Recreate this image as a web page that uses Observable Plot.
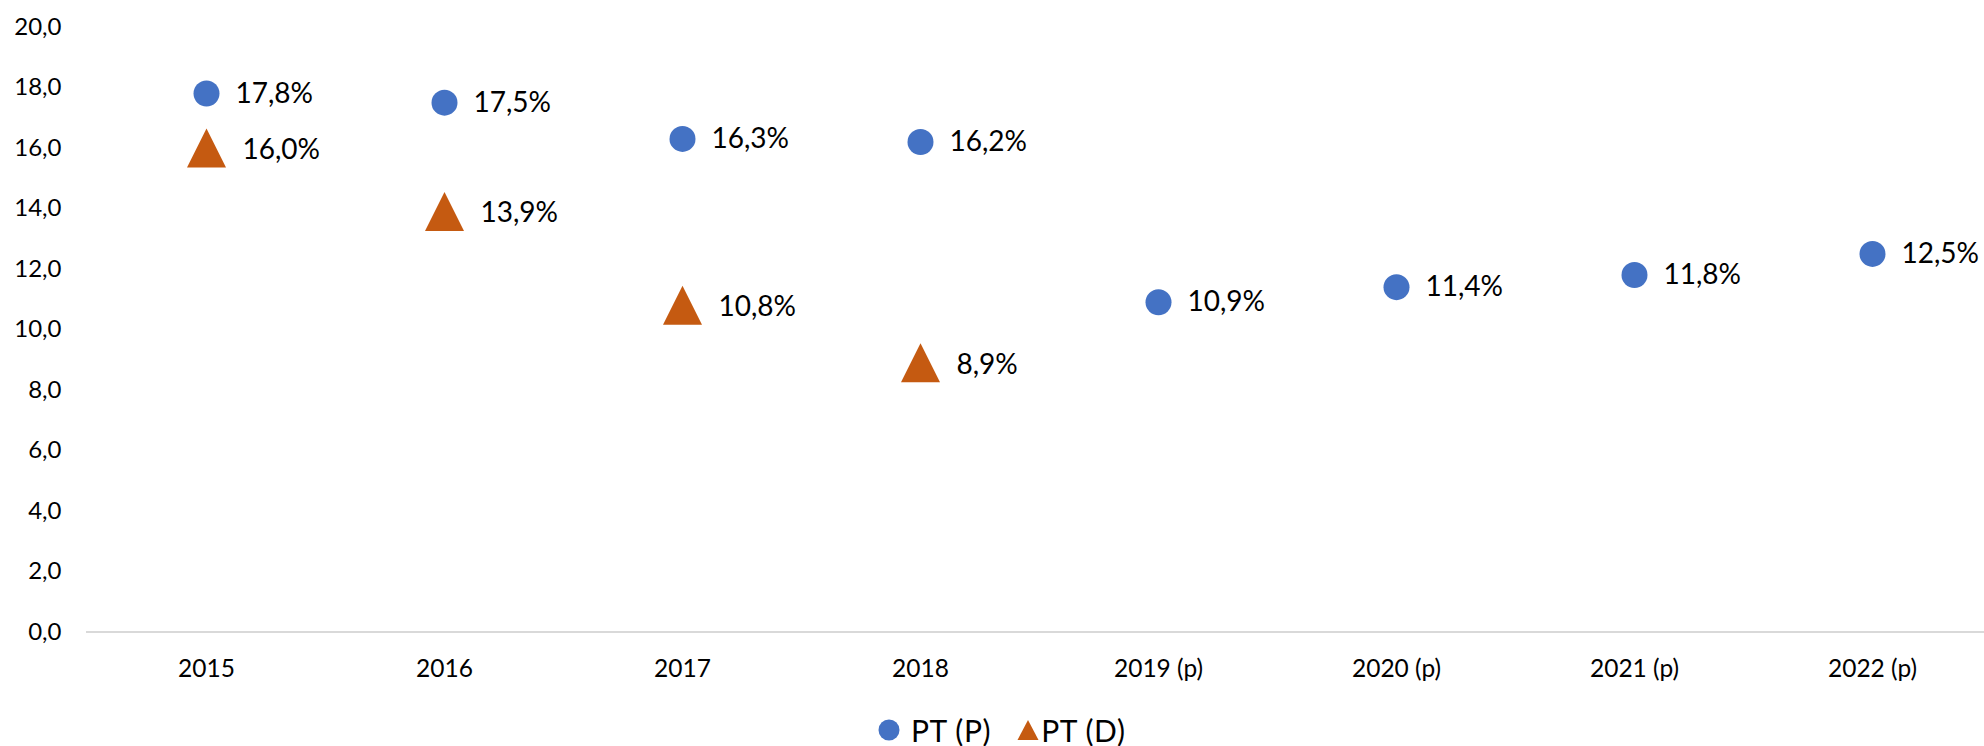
<!DOCTYPE html>
<html>
<head>
<meta charset="utf-8">
<script src="https://cdn.jsdelivr.net/npm/d3@7"></script>
<script src="https://cdn.jsdelivr.net/npm/@observablehq/plot@0.6"></script>
<style>
  html, body { margin: 0; padding: 0; background: #fff; overflow: hidden; }
  body { width: 1984px; height: 746px; position: relative; font-family: Lato, "Open Sans", sans-serif; }
  #legend { position: absolute; left: 878px; top: 714px; height: 32px; display: flex; align-items: center; font-size: 30px; letter-spacing: 0.6px; color: #000; }
  #legend svg { display: block; }
</style>
</head>
<body>
<div id="chart"></div>
<div id="legend"></div>
<script>
const years = ["2015", "2016", "2017", "2018", "2019 (p)", "2020 (p)", "2021 (p)", "2022 (p)"];
const seriesP = [17.8, 17.5, 16.3, 16.2, 10.9, 11.4, 11.8, 12.5];
const seriesD = [16.0, 13.9, 10.8, 8.9];
const yTicks = [0, 2, 4, 6, 8, 10, 12, 14, 16, 18, 20];
const seriesNames = ["PT (P)", "PT (D)"];
const colors = ["#4472C4", "#C55A11"];

const dataP = years.map((year, i) => ({year, value: seriesP[i]}));
const dataD = seriesD.map((value, i) => ({year: years[i], value}));

const fmt = v => v.toFixed(1).replace(".", ",");

// triangle centred on its bounding box
const triangle = {
  draw(context, size) {
    const s = Math.sqrt(size / Math.PI) * 1.5;
    context.moveTo(0, -s);
    context.lineTo(s, s);
    context.lineTo(-s, s);
    context.closePath();
  }
};

const chart = Plot.plot({
  width: 1984,
  height: 712,
  marginTop: 26.5,
  marginBottom: 80.5,
  marginLeft: 86,
  marginRight: 0,
  style: {fontFamily: "Lato, 'Open Sans', sans-serif", fontSize: "24px", color: "#000", background: "#fff"},
  x: {type: "band", domain: years, range: [86, 1992], padding: 0, label: null},
  y: {domain: [0, 20], label: null},
  marks: [
    Plot.axisY({ticks: yTicks, tickFormat: fmt, tickSize: 0, tickPadding: 25, fontSize: 24, label: null}),
    Plot.axisX({tickSize: 0, tickPadding: 28, fontSize: 24.5, label: null}),
    Plot.ruleY([0], {stroke: "#d9d9d9", strokeWidth: 2}),
    Plot.dot(dataP, {x: "year", y: "value", r: 13, fill: colors[0], stroke: "none"}),
    Plot.dot(dataD, {x: "year", y: "value", r: 13, fill: colors[1], stroke: "none", symbol: triangle}),
    Plot.text(dataP, {x: "year", y: "value", text: d => fmt(d.value) + "%", dx: 29, textAnchor: "start", fontSize: 28, fill: "#000"}),
    Plot.text(dataD, {x: "year", y: "value", text: d => fmt(d.value) + "%", dx: 36, dy: 2, textAnchor: "start", fontSize: 28, fill: "#000"})
  ]
});
document.getElementById("chart").appendChild(chart);

// legend
const legend = document.getElementById("legend");
legend.innerHTML = `
  <svg width="22" height="22"><circle cx="11" cy="11" r="10.5" fill="${colors[0]}"/></svg>
  <span style="margin-left:11px">${seriesNames[0]}</span>
  <svg width="22" height="22" style="margin-left:26px"><path d="M11,1 L21.5,21 L0.5,21 Z" fill="${colors[1]}"/></svg>
  <span style="margin-left:2px">${seriesNames[1]}</span>`;
</script>
</body>
</html>
